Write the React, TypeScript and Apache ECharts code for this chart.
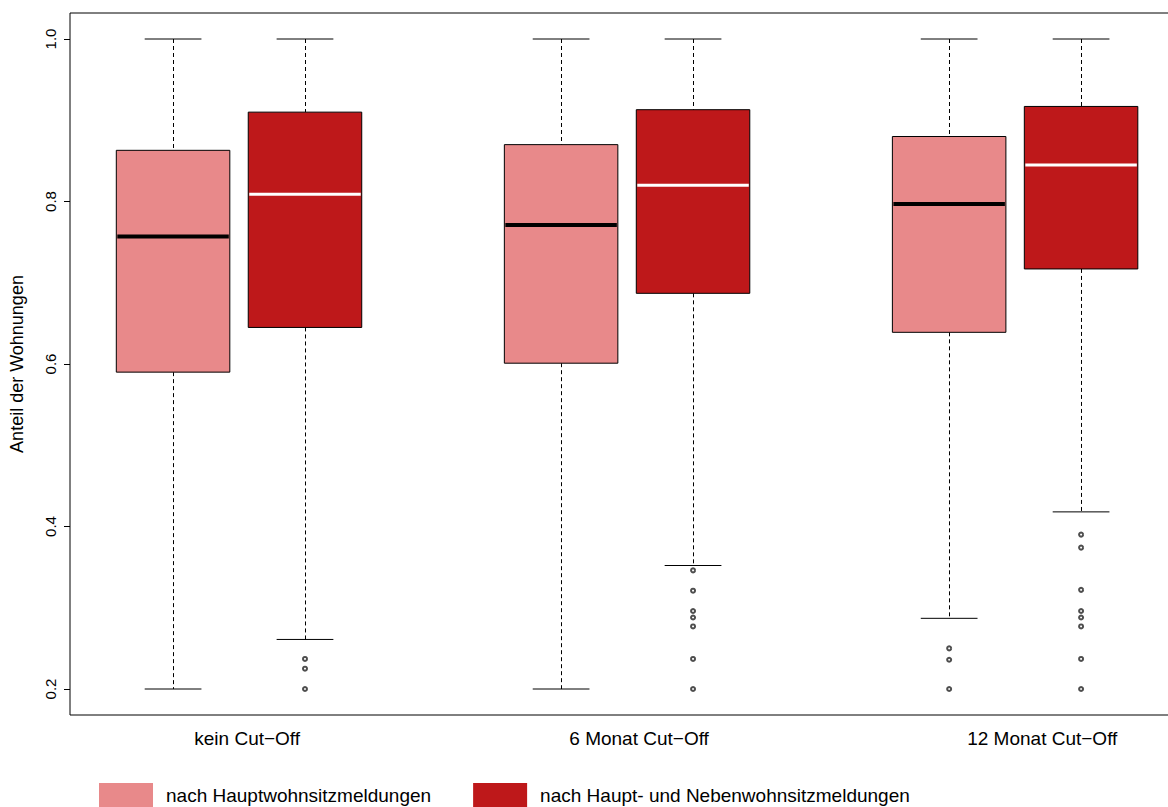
import React, { useEffect, useRef } from "react";
import * as echarts from "echarts";

// ---- data ----
const categories = ["kein Cut\u2212Off", "6 Monat Cut\u2212Off", "12 Monat Cut\u2212Off"];
const seriesNames = ["nach Hauptwohnsitzmeldungen", "nach Haupt- und Nebenwohnsitzmeldungen"];
// [lower whisker, Q1, median, Q3, upper whisker] per category
const hauptStats = [
  [0.2, 0.590, 0.757, 0.863, 1.0],
  [0.2, 0.601, 0.771, 0.870, 1.0],
  [0.287, 0.639, 0.797, 0.880, 1.0],
];
const hauptNebenStats = [
  [0.261, 0.645, 0.809, 0.910, 1.0],
  [0.352, 0.687, 0.820, 0.913, 1.0],
  [0.418, 0.717, 0.845, 0.917, 1.0],
];
const hauptOutliers = [[], [], [0.250, 0.236, 0.2]];
const hauptNebenOutliers = [
  [0.237, 0.225, 0.2],
  [0.346, 0.321, 0.296, 0.288, 0.277, 0.237, 0.2],
  [0.390, 0.374, 0.322, 0.296, 0.288, 0.277, 0.237, 0.2],
];
const yTicks = [0.2, 0.4, 0.6, 0.8, 1.0];

// ---- layout / style ----
const colors = ["#E8898A", "#BE181A"];
const medianColors = ["#000000", "#FFFFFF"];
const pairOffset = 0.17;
const boxWidth = 0.2925;
const labelPositions = [1.021, 2.031, 3.07];

function groupPos(i: number, s: number) {
  return i + 1 + (s === 0 ? -pairOffset : pairOffset);
}

function makeRender(s: number) {
  return (params: any, api: any) => {
    const x = api.value(0);
    const lo = api.value(1), q1 = api.value(2), med = api.value(3), q3 = api.value(4), hi = api.value(5);
    const half = boxWidth / 2;
    const pTL = api.coord([x - half, q3]);
    const pBR = api.coord([x + half, q1]);
    const pMed = api.coord([x, med]);
    const pHi = api.coord([x, hi]);
    const pLo = api.coord([x, lo]);
    const capL = api.coord([x - half / 2, hi])[0];
    const capR = api.coord([x + half / 2, hi])[0];
    const cx = Math.round(pMed[0]) + 0.5;
    const dash = { stroke: "#000", lineWidth: 1, lineDash: [4, 3] };
    const solid = { stroke: "#000", lineWidth: 1 };
    return {
      type: "group",
      children: [
        { type: "line", shape: { x1: cx, y1: pHi[1], x2: cx, y2: pTL[1] }, style: dash },
        { type: "line", shape: { x1: cx, y1: pBR[1], x2: cx, y2: pLo[1] }, style: dash },
        { type: "line", shape: { x1: capL, y1: pHi[1], x2: capR, y2: pHi[1] }, style: solid },
        { type: "line", shape: { x1: capL, y1: pLo[1], x2: capR, y2: pLo[1] }, style: solid },
        {
          type: "rect",
          shape: { x: pTL[0], y: pTL[1], width: pBR[0] - pTL[0], height: pBR[1] - pTL[1] },
          style: { fill: colors[s], stroke: "#000", lineWidth: 1 },
        },
        {
          type: "line",
          shape: { x1: pTL[0] + 1, y1: pMed[1], x2: pBR[0] - 1, y2: pMed[1] },
          style: { stroke: medianColors[s], lineWidth: s === 0 ? 4 : 3 },
        },
      ],
    };
  };
}

export default function App() {
  const ref = useRef<HTMLDivElement>(null);
  useEffect(() => {
    if (!ref.current) return;
    const chart = echarts.init(ref.current, null, { renderer: "svg" });
    const allStats = [hauptStats, hauptNebenStats];
    const allOut = [hauptOutliers, hauptNebenOutliers];
    const boxSeries = allStats.map((stats, s) => ({
      type: "custom",
      name: seriesNames[s],
      itemStyle: { color: colors[s] },
      renderItem: makeRender(s),
      encode: { x: 0, y: [1, 2, 3, 4, 5] },
      data: stats.map((st, i) => [groupPos(i, s), ...st]),
      z: 2,
    }));
    const outSeries = allOut.map((outs, s) => ({
      type: "scatter",
      name: "out" + s,
      symbol: "emptyCircle",
      symbolSize: 4,
      itemStyle: { color: "#222", borderColor: "#222", borderWidth: 1 },
      data: outs.flatMap((arr, i) => arr.map((v) => [groupPos(i, s), v])),
      z: 3,
    }));
    chart.setOption({
      animation: false,
      textStyle: { fontFamily: "Liberation Sans, Arial, sans-serif" },
      grid: {
        left: 70,
        top: 13,
        right: 0,
        bottom: 92,
        show: true,
        borderColor: "#000",
        borderWidth: 1,
        backgroundColor: "transparent",
      },
      legend: {
        data: seriesNames.map((n) => ({ name: n, icon: "rect" })),
        left: 99,
        top: 783,
        itemWidth: 54,
        itemHeight: 24,
        itemGap: 42,
        padding: 0,
        textStyle: { fontSize: 19, color: "#000", padding: [0, 0, 0, 8] },
        selectedMode: false,
      },
      xAxis: {
        type: "value",
        min: 0.5644,
        max: 3.4404,
        axisLine: { show: false },
        axisTick: { show: false },
        splitLine: { show: false },
        axisLabel: {
          customValues: labelPositions,
          formatter: (v: number) => {
            const idx = labelPositions.findIndex((p) => Math.abs(p - v) < 1e-6);
            return idx >= 0 ? categories[idx] : "";
          },
          fontSize: 19,
          color: "#000",
          margin: 14,
        },
      },
      yAxis: {
        type: "value",
        min: 0.168,
        max: 1.032,
        name: "Anteil der Wohnungen",
        nameLocation: "middle",
        nameGap: 44,
        nameTextStyle: { fontSize: 18, color: "#000" },
        axisLine: { show: false },
        splitLine: { show: false },
        axisTick: {
          show: true,
          customValues: yTicks,
          length: 6,
          lineStyle: { color: "#000" },
        },
        axisLabel: {
          customValues: yTicks,
          formatter: (v: number) => v.toFixed(1),
          rotate: 90,
          fontSize: 15,
          color: "#000",
          margin: 12,
        },
      },
      series: [...boxSeries, ...outSeries],
    });
    return () => chart.dispose();
  }, []);
  return (
    <div
      ref={ref}
      style={{ position: "fixed", left: 0, top: 0, width: 1186, height: 807, background: "#fff" }}
    />
  );
}
